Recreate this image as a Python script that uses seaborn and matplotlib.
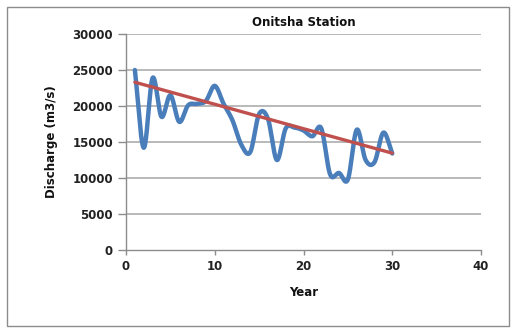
import numpy as np
import pandas as pd
import matplotlib
matplotlib.use("Agg")
import matplotlib.pyplot as plt
import seaborn as sns
from matplotlib.patches import Rectangle

# ---- data ----
years = list(range(1, 31))
discharge = [25000, 14200, 23900, 18500, 21500, 17800, 20100, 20300, 20700, 22800,
             20300, 18000, 14600, 13600, 18900, 18200, 12500, 16900, 17000, 16600,
             15800, 16900, 10500, 10700, 9800, 16700, 12500, 12200, 16300, 13400]
trend_years = [1, 30]
trend_values = [23300, 13450]
title = "Onitsha Station"
xlabel = "Year"
ylabel = "Discharge (m3/s)"
xticks = [0, 10, 20, 30, 40]
yticks = [0, 5000, 10000, 15000, 20000, 25000, 30000]

sns.set_theme(style="white")
plt.rcParams['font.family'] = ['DejaVu Sans']


def catmull_rom(x, y, n=20):
    """Smooth rendering of the series (like Excel 'smoothed line')."""
    x = np.asarray(x, float)
    y = np.asarray(y, float)
    px = np.concatenate([[2 * x[0] - x[1]], x, [2 * x[-1] - x[-2]]])
    py = np.concatenate([[2 * y[0] - y[1]], y, [2 * y[-1] - y[-2]]])
    ox, oy = [], []
    t = np.linspace(0, 1, n, endpoint=False)
    for i in range(1, len(px) - 2):
        for arr, out in ((px, ox), (py, oy)):
            p0, p1, p2, p3 = arr[i - 1], arr[i], arr[i + 1], arr[i + 2]
            out.extend(0.5 * ((2 * p1) + (-p0 + p2) * t
                              + (2 * p0 - 5 * p1 + 4 * p2 - p3) * t ** 2
                              + (-p0 + 3 * p1 - 3 * p2 + p3) * t ** 3))
    ox.append(x[-1]); oy.append(y[-1])
    return np.array(ox), np.array(oy)


sx, sy = catmull_rom(years, discharge)
smooth = pd.DataFrame({"Year": sx, "Discharge": sy})
trend = pd.DataFrame({"Year": trend_years, "Discharge": trend_values})

fig = plt.figure(figsize=(5.15, 3.29), dpi=100)
ax = fig.add_axes([126 / 515, 1 - 250 / 329, (481 - 126) / 515, (250 - 34) / 329])

# outer frame
fig.patches.append(Rectangle((7 / 515, 1 - 326 / 329), (509 - 7) / 515, (326 - 7) / 329,
                             transform=fig.transFigure, fill=False,
                             edgecolor="#8c8c8c", linewidth=1.0))

for yt in yticks[1:]:
    ax.axhline(yt, color="#b3b3b3", linewidth=1.3, zorder=0)

sns.lineplot(data=smooth, x="Year", y="Discharge", sort=False, ax=ax,
             color="#4A7EBB", linewidth=3.2, solid_capstyle="round", zorder=3)
sns.lineplot(data=trend, x="Year", y="Discharge", ax=ax,
             color="#C0504D", linewidth=2.4, zorder=4)

ax.set_xlim(0, 40)
ax.set_ylim(0, 30000)
ax.set_xticks(xticks)
ax.set_yticks(yticks)
ax.set_xticklabels([str(v) for v in xticks], fontsize=8.5, fontweight="bold", color="#222222")
ax.set_yticklabels([str(v) for v in yticks], fontsize=8.5, fontweight="bold", color="#222222")
ax.tick_params(axis="y", length=5.8, width=1, color="#8c8c8c", direction="out", pad=3.6, left=True)
ax.tick_params(axis="x", length=3.6, width=1, color="#8c8c8c", direction="out", pad=3.6, bottom=True)
for s in ("top", "right"):
    ax.spines[s].set_visible(False)
for s in ("left", "bottom"):
    ax.spines[s].set_color("#8c8c8c")
    ax.spines[s].set_linewidth(1.0)

ax.set_title(title, fontsize=8.5, fontweight="bold", color="#111111")
ax.title.set_position((0.5, 1.0))
ax.set_xlabel(xlabel, fontsize=8.5, fontweight="bold", color="#111111")
ax.set_ylabel(ylabel, fontsize=8.5, fontweight="bold", color="#111111")
# place labels at the reference positions
ax.title.set_y(1 + (34 - 24) / 216)
ax.title.set_va("baseline")
ax.xaxis.set_label_coords(0.5, -(293 - 250) / 216)
ax.xaxis.label.set_va("center")
ax.yaxis.set_label_coords(-(126 - 51) / 355, 0.5)
ax.yaxis.label.set_va("center")

fig.savefig("out.png", dpi=100)
